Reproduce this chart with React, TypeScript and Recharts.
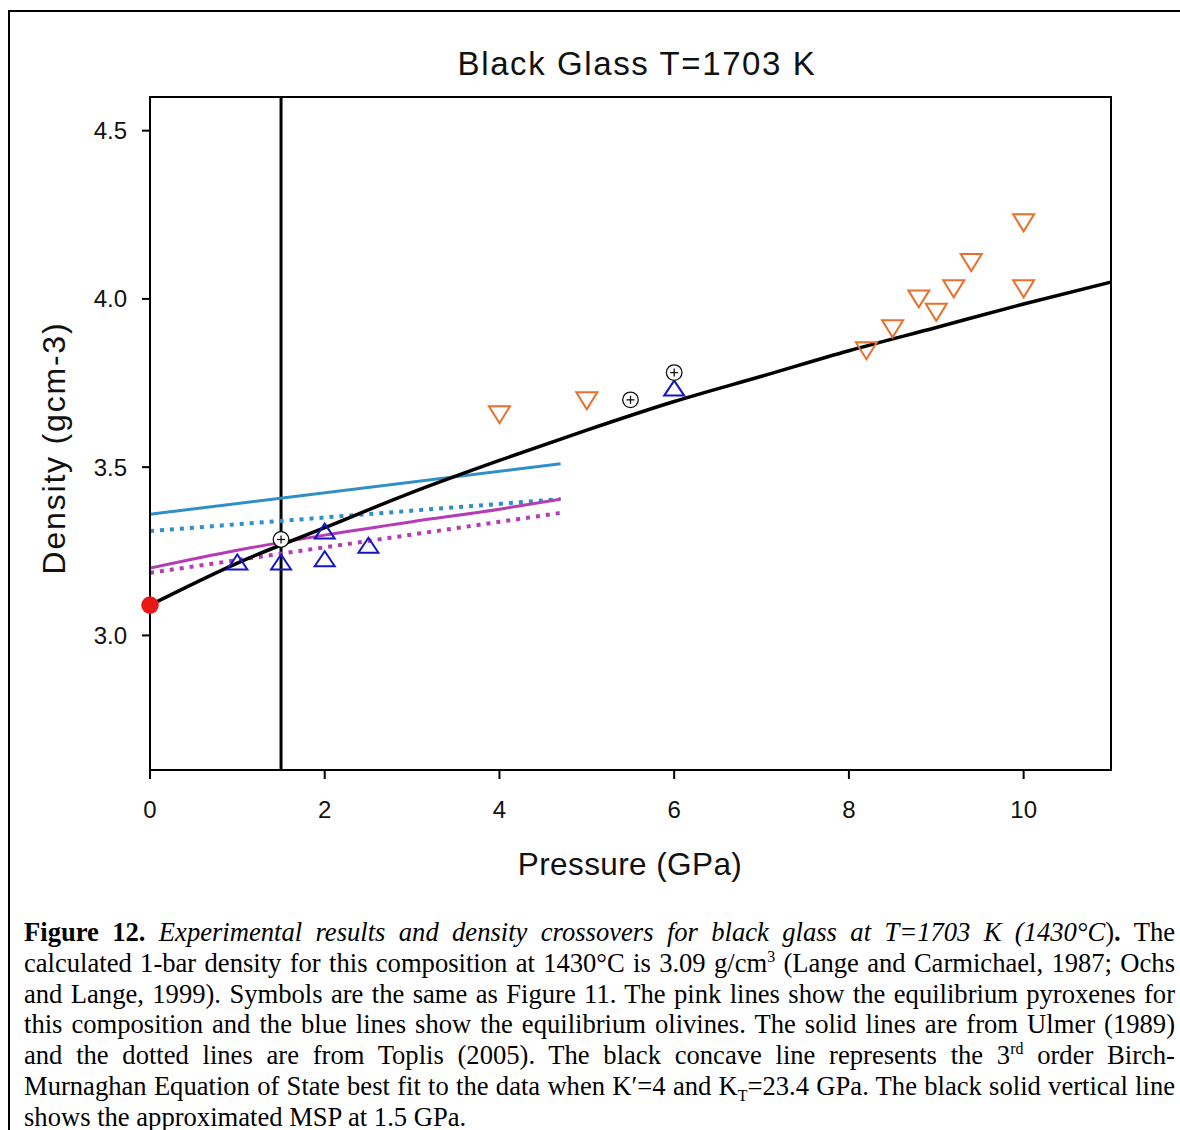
import React from 'react';
import {
  ComposedChart,
  XAxis,
  YAxis,
  Line,
  Scatter,
  ReferenceLine,
  ReferenceArea,
} from 'recharts';

// Birch-Murnaghan fit (K'=4, KT=23.4 GPa)
const bmPressure = [0, 1, 2, 3, 4, 5, 6, 7, 8, 9, 10, 11];
const bmDensity = [3.09, 3.215, 3.32, 3.425, 3.52, 3.61, 3.695, 3.77, 3.846, 3.915, 3.985, 4.05];

// Equilibrium olivine (blue) and pyroxene (pink) densities
const olUlmerP = [0, 4.7];
const olUlmerD = [3.36, 3.51];
const olToplisP = [0, 4.7];
const olToplisD = [3.31, 3.405];
const pxUlmerP = [0, 1, 2, 3, 4, 4.7];
const pxUlmerD = [3.2, 3.253, 3.298, 3.338, 3.375, 3.405];
const pxToplisP = [0, 4.7];
const pxToplisD = [3.186, 3.364];

// Experimental points
const floatP = [1.0, 1.5, 2.0, 2.0, 2.5, 6.0];
const floatD = [3.218, 3.218, 3.31, 3.228, 3.268, 3.735];
const neutralP = [1.5, 5.5, 6.0];
const neutralD = [3.285, 3.7, 3.781];
const sinkP = [4.0, 5.0, 8.2, 8.5, 8.8, 9.0, 9.2, 9.4, 10.0, 10.0];
const sinkD = [3.656, 3.697, 3.846, 3.911, 4.0, 3.96, 4.03, 4.108, 4.226, 4.03];
const oneBarP = [0];
const oneBarD = [3.09];
const mspPressure = 1.5;

const xTicks = [0, 2, 4, 6, 8, 10];
const yTicks = [3.0, 3.5, 4.0, 4.5];

const pts = (p: number[], d: number[]) => p.map((x, i) => ({ p: x, d: d[i] }));

const BLUE = '#2f8fc6';
const PINK = '#b43cb5';
const ORANGE = '#e8702c';
const TRI_BLUE = '#1515c8';
const SANS = '"Liberation Sans", Arial, Helvetica, sans-serif';
const SERIF = '"Liberation Serif", "Times New Roman", Times, serif';

const UpTriangle = (props: any) => {
  const { cx, cy } = props;
  const w = 10;
  const h = 7.5;
  return (
    <polygon
      points={`${cx - w},${cy + h} ${cx + w},${cy + h} ${cx},${cy - h}`}
      fill="none"
      stroke={TRI_BLUE}
      strokeWidth={2}
      strokeLinejoin="miter"
    />
  );
};

const DownTriangle = (props: any) => {
  const { cx, cy } = props;
  const w = 10.5;
  const h = 8.5;
  return (
    <polygon
      points={`${cx - w},${cy - h} ${cx + w},${cy - h} ${cx},${cy + h}`}
      fill="none"
      stroke={ORANGE}
      strokeWidth={2}
    />
  );
};

const CirclePlus = (props: any) => {
  const { cx, cy } = props;
  return (
    <g>
      <circle cx={cx} cy={cy} r={7.8} fill="#fff" stroke="#111" strokeWidth={1.3} />
      <line x1={cx - 4} y1={cy} x2={cx + 4} y2={cy} stroke="#111" strokeWidth={1.3} />
      <line x1={cx} y1={cy - 4} x2={cx} y2={cy + 4} stroke="#111" strokeWidth={1.3} />
    </g>
  );
};

const RedDot = (props: any) => {
  const { cx, cy } = props;
  return <circle cx={cx} cy={cy} r={8.8} fill="#e81818" />;
};

const tickStyle = { fontSize: 24, fill: '#111', fontFamily: SANS };

const justLine: React.CSSProperties = { textAlign: 'justify', textAlignLast: 'justify' };
const supStyle: React.CSSProperties = { fontSize: '0.6em', verticalAlign: 'super', lineHeight: 0 };
const subStyle: React.CSSProperties = { fontSize: '0.6em', verticalAlign: 'sub', lineHeight: 0 };

export default function App() {
  return (
    <div
      style={{
        position: 'fixed',
        left: 0,
        top: 0,
        width: 1180,
        height: 1130,
        overflow: 'hidden',
        background: '#fff',
      }}
    >
      <div
        style={{
          position: 'absolute',
          left: 8,
          top: 10,
          width: 1300,
          height: 1300,
          border: '2px solid #000',
        }}
      />
      <div style={{ position: 'absolute', left: 0, top: 0 }}>
        <ComposedChart
          width={1180}
          height={900}
          margin={{ top: 97, right: 69, bottom: 70, left: 70 }}
        >
          <XAxis
            dataKey="p"
            type="number"
            domain={[0, 11]}
            ticks={xTicks}
            height={60}
            tickSize={9}
            tickMargin={22}
            tick={tickStyle}
            axisLine={{ stroke: '#000', strokeWidth: 2 }}
            tickLine={{ stroke: '#000', strokeWidth: 2 }}
          />
          <YAxis
            dataKey="d"
            type="number"
            domain={[2.6, 4.6]}
            ticks={yTicks}
            width={80}
            tickSize={8}
            tickMargin={15}
            tick={tickStyle}
            tickFormatter={(v: number) => v.toFixed(1)}
            axisLine={{ stroke: '#000', strokeWidth: 2 }}
            tickLine={{ stroke: '#000', strokeWidth: 2 }}
          />
          <ReferenceArea
            x1={0}
            x2={11}
            y1={2.6}
            y2={4.6}
            fill="none"
            fillOpacity={0}
            stroke="#000"
            strokeWidth={2}
          />
          <ReferenceLine x={mspPressure} stroke="#000" strokeWidth={3} />
          <Line
            data={pts(olUlmerP, olUlmerD)}
            dataKey="d"
            type="linear"
            stroke={BLUE}
            strokeWidth={3}
            dot={false}
            isAnimationActive={false}
          />
          <Line
            data={pts(olToplisP, olToplisD)}
            dataKey="d"
            type="linear"
            stroke={BLUE}
            strokeWidth={4}
            strokeDasharray="4 6"
            dot={false}
            isAnimationActive={false}
          />
          <Line
            data={pts(pxUlmerP, pxUlmerD)}
            dataKey="d"
            type="monotone"
            stroke={PINK}
            strokeWidth={3}
            dot={false}
            isAnimationActive={false}
          />
          <Line
            data={pts(pxToplisP, pxToplisD)}
            dataKey="d"
            type="linear"
            stroke={PINK}
            strokeWidth={4}
            strokeDasharray="4 6"
            dot={false}
            isAnimationActive={false}
          />
          <Line
            data={pts(bmPressure, bmDensity)}
            dataKey="d"
            type="monotone"
            stroke="#000"
            strokeWidth={3.5}
            dot={false}
            isAnimationActive={false}
          />
          <Scatter data={pts(floatP, floatD)} shape={UpTriangle} isAnimationActive={false} />
          <Scatter data={pts(neutralP, neutralD)} shape={CirclePlus} isAnimationActive={false} />
          <Scatter data={pts(sinkP, sinkD)} shape={DownTriangle} isAnimationActive={false} />
          <Scatter data={pts(oneBarP, oneBarD)} shape={RedDot} isAnimationActive={false} />
        </ComposedChart>
      </div>
      <svg
        width={1180}
        height={900}
        style={{ position: 'absolute', left: 0, top: 0, pointerEvents: 'none' }}
      >
        <text
          x={637}
          y={75}
          textAnchor="middle"
          fontFamily={SANS}
          fontSize={33}
          letterSpacing={1.6}
          fill="#111"
        >
          Black Glass T=1703 K
        </text>
        <text
          x={630}
          y={875}
          textAnchor="middle"
          fontFamily={SANS}
          fontSize={31.5}
          letterSpacing={0.4}
          fill="#111"
        >
          Pressure (GPa)
        </text>
        <text
          x={0}
          y={0}
          transform="translate(65 448) rotate(-90)"
          textAnchor="middle"
          fontFamily={SANS}
          fontSize={32}
          letterSpacing={1.8}
          fill="#111"
        >
          Density (gcm-3)
        </text>
      </svg>
      <div
        style={{
          position: 'absolute',
          left: 24,
          top: 917,
          width: 1151,
          fontFamily: SERIF,
          fontSize: 26.6,
          lineHeight: '30.8px',
          color: '#000',
        }}
      >
        <div style={justLine}>
          <b>Figure 12.</b>{' '}
          <i>Experimental results and density crossovers for black glass at T=1703 K (1430°C</i>)
          <b>.</b> The
        </div>
        <div style={justLine}>
          calculated 1-bar density for this composition at 1430°C is 3.09 g/cm
          <span style={supStyle}>3</span> (Lange and Carmichael, 1987; Ochs
        </div>
        <div style={justLine}>
          and Lange, 1999). Symbols are the same as Figure 11. The pink lines show the equilibrium pyroxenes for
        </div>
        <div style={justLine}>
          this composition and the blue lines show the equilibrium olivines. The solid lines are from Ulmer (1989)
        </div>
        <div style={justLine}>
          and the dotted lines are from Toplis (2005). The black concave line represents the 3
          <span style={supStyle}>rd</span> order Birch-
        </div>
        <div style={justLine}>
          Murnaghan Equation of State best fit to the data when K′=4 and K
          <span style={subStyle}>T</span>=23.4 GPa. The black solid vertical line
        </div>
        <div style={{ textAlign: 'left' }}>shows the approximated MSP at 1.5 GPa.</div>
      </div>
    </div>
  );
}
